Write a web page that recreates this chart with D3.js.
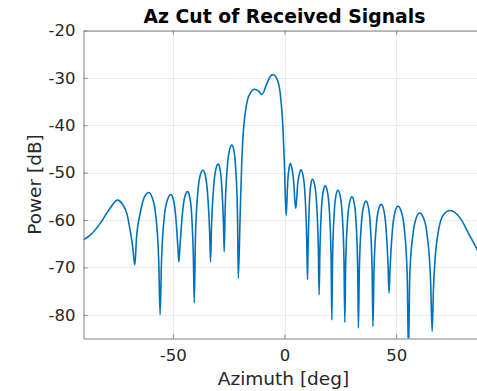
<!DOCTYPE html>
<html>
<head>
<meta charset="utf-8">
<script src="https://cdn.jsdelivr.net/npm/d3@7"></script>
<style>
  html, body { margin: 0; padding: 0; background: #fff; }
  svg { display: block; }
  text { font-family: "DejaVu Sans", sans-serif; }
</style>
</head>
<body>
<svg id="chart" width="477" height="391"></svg>
<script>
// ---- Data ----
const titleText = "Az Cut of Received Signals";
const xLabelText = "Azimuth [deg]";
const yLabelText = "Power [dB]";
const xTicks = [-50, 0, 50];
const yTicks = [-80, -70, -60, -50, -40, -30, -20];
const xDomain = [-90, 90];
const yDomain = [-85, -20];

// Azimuth (deg) samples
const azimuth = [
  -90, -87.0, -82.5, -78.1, -74.8, -72.5, -70.5, -69.0, -68.0, -67.0,
  -66.3, -64.5, -62.7, -60.8, -59.3, -57.7, -56.3, -55.7,
  -55.1, -53.8, -52.3, -50.9, -49.8, -48.7, -47.7, -47.3,
  -46.8, -45.7, -44.6, -43.4, -42.5, -41.6, -40.8, -40.4,
  -39.9, -38.8, -37.7, -36.5, -35.5, -34.5, -33.5, -33.1,
  -32.7, -31.7, -30.7, -29.7, -28.9, -28.1, -27.3, -27.0,
  -26.6, -25.6, -24.6, -23.6, -22.7, -21.9, -21.05, -20.7,
  -19.8, -19.1, -18.4, -17.6, -16.6, -15.4, -13.4, -11.6, -10.1, -7.9, -6.4, -5.2, -3.4, -1.9, -0.7, 0.0, 0.7,
  0.93, 1.46, 2.03, 2.6, 3.32, 4.04, 4.71, 5.0,
  5.28, 5.92, 6.61, 7.3, 8.2, 9.1, 9.94, 10.3,
  10.56, 11.18, 11.84, 12.5, 13.4, 14.3, 15.14, 15.5,
  15.82, 16.58, 17.39, 18.2, 19.1, 20.0, 20.84, 21.2,
  21.52, 22.28, 23.09, 23.9, 24.83, 25.76, 26.63, 27.0,
  27.38, 28.28, 29.24, 30.2, 31.07, 31.94, 32.75, 33.1,
  33.51, 34.46, 35.48, 36.5, 37.43, 38.36, 39.23, 39.6,
  40.04, 41.08, 42.19, 43.3, 44.35, 45.4, 46.38, 46.8,
  47.28, 48.4, 49.6, 50.8, 52.21, 53.62, 54.94, 55.5,
  56.1, 57.5, 59.0, 60.5, 62.18, 63.86, 65.43, 66.1,
  66.7, 67.5, 69.0, 71.2, 74.2, 78.7, 82.4, 86.3, 88.2, 90
];

// Received power (dB) samples
const power = [
  -64.2, -63.2, -60.7, -57.5, -55.8, -56.7, -58.8, -62.5, -65.5, -69.5,
  -64.0, -58.3, -55.1, -54.2, -55.2, -58.8, -68.7, -80.0,
  -69.1, -59.2, -55.6, -54.6, -55.6, -59.2, -66.0, -68.8,
  -65.6, -58.6, -55.0, -54.0, -55.0, -58.6, -68.0, -77.5,
  -64.0, -54.1, -50.5, -49.5, -50.5, -54.1, -62.8, -68.8,
  -61.7, -52.8, -49.2, -48.2, -49.2, -52.8, -61.2, -66.7,
  -58.1, -48.8, -45.2, -44.2, -45.2, -48.8, -58.7, -72.3,
  -57.9, -47.4, -41.1, -37.5, -34.7, -33.3, -32.4, -32.8, -33.5, -31.2, -29.7, -29.3, -30.2, -33.3, -40.4, -48.8, -59.0,
  -57.4, -51.8, -49.1, -48.1, -49.1, -51.5, -56.3, -57.5,
  -56.6, -52.4, -50.4, -49.4, -50.4, -54.0, -63.9, -72.6,
  -65.9, -56.0, -52.4, -51.4, -52.4, -56.0, -65.9, -75.8,
  -67.3, -57.4, -53.8, -52.8, -53.8, -57.4, -67.3, -81.1,
  -68.2, -58.3, -54.7, -53.7, -54.7, -58.3, -68.2, -81.6,
  -69.6, -59.7, -56.1, -55.1, -56.1, -59.7, -69.6, -82.8,
  -70.5, -60.6, -57.0, -56.0, -57.0, -60.6, -70.5, -82.5,
  -71.2, -61.3, -57.7, -56.7, -57.7, -61.3, -69.8, -75.4,
  -70.1, -61.7, -58.1, -57.1, -58.1, -61.7, -71.6, -88.0,
  -71.5, -63.1, -59.5, -58.5, -59.5, -63.1, -73.0, -83.5,
  -74.5, -67.7, -62.1, -58.9, -58.0, -59.6, -62.8, -66.3, -68.3, -70.8
];

// ---- Layout ----
const svg = d3.select("#chart");
const mLeft = 83.5, mTop = 30.5, mRight = 485.5, mBottom = 338.5;

const x = d3.scaleLinear().domain(xDomain).range([mLeft, mRight]);
const y = d3.scaleLinear().domain(yDomain).range([mBottom, mTop]);

// grid
const grid = svg.append("g").attr("stroke", "#ebebeb").attr("stroke-width", 1);
grid.selectAll("line.gx").data(xTicks).join("line")
  .attr("x1", d => Math.round(x(d)) + 0.5).attr("x2", d => Math.round(x(d)) + 0.5)
  .attr("y1", mTop).attr("y2", mBottom);
grid.selectAll("line.gy").data(yTicks).join("line")
  .attr("y1", d => Math.round(y(d)) + 0.5).attr("y2", d => Math.round(y(d)) + 0.5)
  .attr("x1", mLeft).attr("x2", mRight);

// clip
svg.append("clipPath").attr("id", "clip").append("rect")
  .attr("x", mLeft).attr("y", mTop).attr("width", mRight - mLeft).attr("height", mBottom - mTop);

// data line
const pts = azimuth.map((a, i) => [a, power[i]]);
const line = d3.line().x(d => x(d[0])).y(d => y(d[1])).curve(d3.curveMonotoneX);
svg.append("path")
  .datum(pts)
  .attr("clip-path", "url(#clip)")
  .attr("fill", "none")
  .attr("stroke", "#0072BD")
  .attr("stroke-width", 1.6)
  .attr("stroke-linejoin", "round")
  .attr("d", line);

// axes
const fmt = d => String(d);
const axisColor = "#808080";
const labelColor = "#262626";

const xAxis = svg.append("g").attr("transform", `translate(0,${mBottom})`)
  .call(d3.axisBottom(x).tickValues(xTicks).tickFormat(fmt).tickSizeInner(-4).tickSizeOuter(0).tickPadding(11));
const xAxisTop = svg.append("g").attr("transform", `translate(0,${mTop})`)
  .call(d3.axisTop(x).tickValues(xTicks).tickFormat("").tickSizeInner(-4).tickSizeOuter(0));
const yAxis = svg.append("g").attr("transform", `translate(${mLeft},0)`)
  .call(d3.axisLeft(y).tickValues(yTicks).tickFormat(fmt).tickSizeInner(-4).tickSizeOuter(0).tickPadding(8));

[xAxis, xAxisTop, yAxis].forEach(g => {
  g.select(".domain").attr("stroke", axisColor);
  g.selectAll(".tick line").attr("stroke", axisColor);
  g.selectAll(".tick text").attr("fill", labelColor)
    .style("font-family", "'DejaVu Sans', sans-serif").style("font-size", "16.5px");
});

// titles
svg.append("text")
  .attr("x", (mLeft + mRight) / 2).attr("y", 23)
  .attr("text-anchor", "middle")
  .style("font-weight", "bold").style("font-size", "18.8px")
  .attr("fill", "#000")
  .text(titleText);

svg.append("text")
  .attr("x", (mLeft + mRight) / 2 - 1).attr("y", 385)
  .attr("text-anchor", "middle")
  .style("font-size", "18.5px")
  .attr("fill", labelColor)
  .text(xLabelText);

svg.append("text")
  .attr("transform", `translate(41,${(mTop + mBottom) / 2}) rotate(-90)`)
  .attr("text-anchor", "middle")
  .style("font-size", "18.5px")
  .attr("fill", labelColor)
  .text(yLabelText);
</script>
</body>
</html>
